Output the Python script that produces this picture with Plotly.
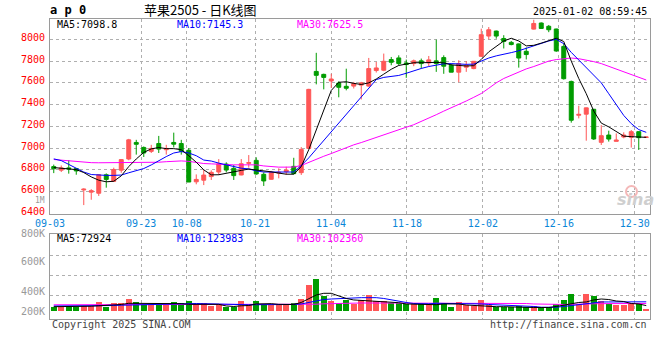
import plotly.graph_objects as go

# ---------------- data ----------------
dates = ["09-03", "09-04", "09-05", "09-06", "09-09", "09-10", "09-11", "09-12", "09-13", "09-18",
         "09-19", "09-20", "09-23", "09-24", "09-25", "09-26", "09-27", "09-30",
         "10-08", "10-09", "10-10", "10-11", "10-14", "10-15", "10-16", "10-17", "10-18", "10-21",
         "10-22", "10-23", "10-24", "10-25", "10-28", "10-29", "10-30", "10-31",
         "11-01", "11-04", "11-05", "11-06", "11-07", "11-08", "11-11", "11-12", "11-13", "11-14",
         "11-15", "11-18", "11-19", "11-20", "11-21", "11-22", "11-25", "11-26", "11-27", "11-28", "11-29",
         "12-02", "12-03", "12-04", "12-05", "12-06", "12-09", "12-10", "12-11", "12-12", "12-13",
         "12-16", "12-17", "12-18", "12-19", "12-20", "12-23", "12-24", "12-25", "12-26", "12-27",
         "12-30", "12-31", "01-02"]

open_ = [6830, 6797, 6818, 6812, 6615, 6595, 6585, 6755, 6694, 6797,
         6900, 7052, 7006, 6970, 7042, 6985, 7052, 7042, 6980, 6690,
         6705, 6738, 6780, 6853, 6814, 6753, 6860, 6887, 6759, 6713,
         6770, 6783, 6832, 6774, 6997, 7705, 7678, 7617, 7598, 7568,
         7570, 7579, 7570, 7713, 7716, 7814, 7829, 7783, 7777, 7802,
         7783, 7802, 7832, 7762, 7698, 7744, 7731, 7844, 8030, 8076,
         8008, 7972, 7958, 7890, 8094, 8150, 8120, 8095, 7935, 7613,
         7302, 7312, 7357, 7053, 7120, 7062, 7102, 7099, 7151, 7098]
high = [6848, 6840, 6890, 6815, 6630, 6622, 6758, 6767, 6820, 6897,
        7085, 7076, 7015, 7030, 7112, 7030, 7142, 7076, 7000, 6758,
        6800, 6795, 6899, 6869, 6844, 6899, 6936, 6915, 6777, 6790,
        6814, 6829, 6911, 7009, 7545, 7876, 7684, 7684, 7614, 7730,
        7609, 7609, 7829, 7792, 7869, 7838, 7853, 7814, 7814, 7823,
        7847, 7997, 7853, 7777, 7808, 7798, 7800, 8098, 8113, 8080,
        8038, 7985, 7962, 7925, 8180, 8155, 8132, 8098, 7965, 7620,
        7390, 7372, 7360, 7211, 7160, 7135, 7145, 7166, 7155, 7102]
low = [6770, 6780, 6765, 6755, 6476, 6525, 6560, 6636, 6690, 6773,
       6888, 6940, 6918, 6955, 6955, 6940, 7006, 6940, 6688, 6667,
       6660, 6707, 6753, 6777, 6707, 6750, 6820, 6755, 6652, 6710,
       6722, 6753, 6759, 6753, 6990, 7586, 7540, 7553, 7467, 7531,
       7548, 7447, 7563, 7695, 7707, 7762, 7762, 7646, 7753, 7731,
       7753, 7701, 7683, 7698, 7606, 7701, 7725, 7838, 8000, 8006,
       7916, 7945, 7740, 7815, 8090, 8097, 8066, 7885, 7630, 7234,
       7273, 7068, 7075, 7029, 7060, 7062, 7090, 7005, 6983, 7098]
close = [6810, 6818, 6808, 6790, 6622, 6608, 6755, 6712, 6803, 6894,
         7076, 7035, 6955, 6997, 6991, 6997, 7036, 6970, 6688, 6712,
         6752, 6777, 6856, 6798, 6747, 6856, 6866, 6762, 6698, 6777,
         6777, 6798, 6765, 6988, 7540, 7669, 7650, 7635, 7559, 7550,
         7594, 7600, 7731, 7737, 7798, 7789, 7777, 7768, 7802, 7777,
         7811, 7777, 7753, 7698, 7777, 7759, 7798, 8043, 8088, 8030,
         7980, 7952, 7828, 7860, 8146, 8100, 8088, 7893, 7638, 7256,
         7310, 7370, 7084, 7114, 7083, 7074, 7120, 7151, 7096, 7102]

ma5 = [6821, 6816, 6812, 6802, 6775, 6735, 6705, 6690, 6695, 6745,
       6830, 6900, 6960, 6993, 7005, 6995, 6995, 6985, 6930, 6870,
       6800, 6754, 6755, 6770, 6783, 6795, 6807, 6800, 6790, 6782,
       6770, 6760, 6760, 6830, 6985, 7170, 7360, 7530, 7605, 7610,
       7595, 7585, 7600, 7635, 7680, 7725, 7760, 7772, 7785, 7785,
       7788, 7788, 7784, 7765, 7760, 7755, 7758, 7815, 7885, 7935,
       7985, 8010, 7985, 7940, 7945, 7965, 7990, 8010, 7980, 7800,
       7640, 7500, 7340, 7230, 7195, 7150, 7110, 7105, 7100, 7099]
ma10 = [6901, 6885, 6850, 6818, 6780, 6757, 6750, 6749, 6749, 6752,
        6773, 6795, 6812, 6845, 6885, 6922, 6955, 6968, 6955, 6930,
        6890, 6881, 6862, 6846, 6826, 6815, 6809, 6790, 6780, 6779,
        6779, 6779, 6780, 6840, 6910, 6990, 7070, 7150, 7230, 7310,
        7390, 7475, 7560, 7630, 7650, 7660, 7668, 7688, 7713, 7732,
        7750, 7765, 7775, 7777, 7773, 7770, 7772, 7800, 7828, 7848,
        7860, 7878, 7895, 7918, 7935, 7960, 7985, 8000, 7960, 7880,
        7810, 7745, 7670, 7600, 7500, 7395, 7300, 7225, 7170, 7145]
ma30 = [6895, 6888, 6882, 6877, 6870, 6866, 6865, 6865, 6865, 6865,
        6865, 6865, 6865, 6865, 6870, 6875, 6880, 6882, 6878, 6866,
        6858, 6855, 6850, 6846, 6846, 6846, 6846, 6846, 6836, 6828,
        6825, 6825, 6826, 6840, 6870, 6900, 6925, 6950, 6978, 7002,
        7030, 7051, 7075, 7103, 7127, 7148, 7169, 7192, 7215, 7244,
        7273, 7307, 7340, 7370, 7399, 7433, 7467, 7502, 7550, 7600,
        7640, 7670, 7700, 7728, 7750, 7776, 7800, 7814, 7822, 7828,
        7822, 7810, 7795, 7777, 7752, 7724, 7697, 7670, 7647, 7626]

# volume in thousand lots
volume = [50, 50, 67.5, 50, 67.5, 67.5, 117, 58, 104, 104,
          162, 117, 90, 90, 90, 90, 117, 104, 135, 90,
          104, 67.5, 90, 58, 58, 135, 90, 135, 90, 81,
          81, 81, 108, 162, 351, 432, 202, 135, 112, 148.5,
          94.5, 148.5, 216, 135, 135, 112, 112, 94.5, 94.5, 94.5,
          81, 180, 112, 58, 117, 81, 71.5, 148.5, 81, 58,
          58, 50, 67.5, 50, 67.5, 50, 50, 90, 148.5, 229.5,
          90, 229.5, 202.5, 135, 94.5, 81, 81, 94.5, 112, 27]
vol_ma5 = [58, 58, 58, 58, 61, 65, 70, 74, 78, 88,
           104, 104, 104, 104, 104, 101, 101, 99, 90, 90,
           90, 90, 90, 68, 61, 70, 74, 95, 99, 99,
           90, 88, 88, 115, 162, 216, 239, 239, 203, 169,
           149, 142, 139, 135, 128, 112, 112, 95, 90, 88,
           81, 85, 95, 95, 95, 81, 74, 68, 61, 58,
           58, 54, 47, 47, 47, 47, 47, 61, 81, 95,
           115, 122, 149, 162, 155, 135, 128, 101, 95, 73]
vol_ma10 = [67.5, 67.5, 67.5, 67.5, 67.5, 67.5, 67.5, 70, 74, 78,
            81, 84, 88, 92, 95, 97, 97, 97, 101, 101,
            99, 95, 92, 88, 85, 84, 84, 85, 85, 84,
            84, 84, 88, 95, 115, 142, 155, 162, 169, 176,
            180, 180, 180, 180, 169, 149, 128, 115, 101, 95,
            97, 104, 104, 104, 104, 99, 95, 95, 88, 85,
            81, 74, 72, 68, 61, 51, 50, 51, 61, 74,
            88, 101, 115, 122, 122, 122, 122, 124, 124, 124]
vol_ma30 = [84, 84, 84, 84, 84, 84, 84, 84, 84, 84,
            84, 84, 84, 84, 84, 84, 84, 84, 84, 84,
            84, 84, 84, 84, 84, 84, 84, 84, 84, 84,
            84, 84, 84, 84, 88, 92, 97, 101, 105, 108,
            108, 108, 108, 108, 108, 108, 108, 108, 108, 108,
            108, 108, 108, 108, 108, 108, 108, 108, 108, 108,
            108, 108, 108, 101, 95, 92, 88, 88, 88, 90,
            95, 95, 97, 99, 99, 100, 101, 101, 102, 102]

price_ticks = [6400, 6600, 6800, 7000, 7200, 7400, 7600, 7800, 8000, 8200]
date_labels = ["09-03", "09-23", "10-08", "10-21", "11-04", "11-18", "12-02", "12-16", "12-30"]
vol_labels = ["800K", "600K", "400K", "200K"]
vol_label_pix = [233, 261, 291, 311]     # window-pixel rows where sina prints them
vol_grid = [216, 486, 756]

# ---------------- styling ----------------
RED = "#FF5656"
GREEN = "#009C00"
GRID = "#AFAFAF"
BOX = "#9A9A9A"
MONO = "DejaVu Sans Mono"
DATE_BLUE = "#0A86D8"

W, HT = 660, 360
PL, PR, PT, PB = 50, 650, 19, 319   # plot area in window pixels

n = len(dates)
x = list(range(n))
# sina spaces its date grid on n-1 intervals
tick_pos = [dates.index(d) * n / (n - 1) - 0.5 for d in date_labels]

fig = go.Figure()
fig.add_trace(go.Candlestick(
    x=x, open=open_, high=high, low=low, close=close,
    increasing=dict(line=dict(color=RED, width=1), fillcolor=RED),
    decreasing=dict(line=dict(color=GREEN, width=1), fillcolor=GREEN),
    whiskerwidth=0, hoverinfo="skip", showlegend=False, xaxis="x", yaxis="y"))
for arr, col in [(ma30, "#FF00FF"), (ma10, "#0000FF"), (ma5, "#000000")]:
    fig.add_trace(go.Scatter(x=x, y=arr, mode="lines", line=dict(color=col, width=1),
                             hoverinfo="skip", showlegend=False, xaxis="x", yaxis="y"))

bar_colors = [RED if c >= o else GREEN for o, c in zip(open_, close)]
fig.add_trace(go.Bar(x=x, y=volume, width=0.78, marker=dict(color=bar_colors, line=dict(width=0)),
                     hoverinfo="skip", showlegend=False, xaxis="x2", yaxis="y2"))
for arr, col in [(vol_ma30, "#FF00FF"), (vol_ma10, "#0000FF"), (vol_ma5, "#000000")]:
    fig.add_trace(go.Scatter(x=x, y=arr, mode="lines", line=dict(color=col, width=1),
                             hoverinfo="skip", showlegend=False, xaxis="x2", yaxis="y2"))

H = PB - PT


def py(pix):
    return (PB - pix) / H


def px(pix):
    return (pix - PL) / (PR - PL)


axis_common = dict(showline=True, linecolor=BOX, linewidth=1, mirror=True, zeroline=False,
                   showgrid=True, gridcolor=GRID, griddash="dot", gridwidth=1, ticks="")

fig.update_layout(
    width=W, height=HT,
    margin=dict(l=PL, r=W - PR, t=PT, b=HT - PB, pad=0, autoexpand=False),
    paper_bgcolor="white", plot_bgcolor="white", showlegend=False, boxgap=0.25, bargap=0,
    font=dict(family=MONO, size=10, color="#000"),
    xaxis=dict(domain=[0, 1], range=[-0.5, n - 0.5], anchor="y", tickvals=tick_pos, ticktext=date_labels,
               tickfont=dict(family=MONO, size=10, color=DATE_BLUE), rangeslider=dict(visible=False),
               **axis_common),
    yaxis=dict(domain=[py(214), 1], range=[6394, 8187], anchor="x", tickvals=price_ticks,
               showticklabels=False, **axis_common),
    xaxis2=dict(domain=[0, 1], range=[-0.5, n - 0.5], anchor="y2", matches="x", tickvals=tick_pos,
                showticklabels=False, **axis_common),
    yaxis2=dict(domain=[0, py(234)], range=[-108, 1039.5], anchor="x2", tickvals=vol_grid,
                showticklabels=False, **axis_common),
)

ann = []
# price labels (sina draws them slightly above their grid lines)
for v in price_ticks:
    ann.append(dict(text=str(v), xref="paper", yref="y", x=0, y=v, xanchor="right", yanchor="middle",
                    xshift=-3, yshift=2, showarrow=False, font=dict(family=MONO, size=10, color="#FF0000")))
ann.append(dict(text="1M", xref="paper", yref="paper", x=0, y=py(200.5), xanchor="right", yanchor="middle",
                xshift=-3, showarrow=False, font=dict(family=MONO, size=8, color="#999999")))
for lab, pix in zip(vol_labels, vol_label_pix):
    ann.append(dict(text=lab, xref="paper", yref="paper", x=0, y=py(pix), xanchor="right", yanchor="middle",
                    xshift=-3, showarrow=False, font=dict(family=MONO, size=10, color="#999999")))
# header
ann.append(dict(text="<b>a p 0</b>", xref="paper", yref="paper", x=px(48), y=py(10), xanchor="left",
                yanchor="middle", showarrow=False, font=dict(family=MONO, size=12, color="#000")))
ann.append(dict(text="苹果2505 - 日K线图", xref="paper", yref="paper", x=px(200), y=py(10), xanchor="center",
                yanchor="middle", showarrow=False, font=dict(family="Noto Sans CJK SC", size=13, color="#000")))
ann.append(dict(text="2025-01-02 08:59:45", xref="paper", yref="paper", x=px(649), y=py(11.5), xanchor="right",
                yanchor="middle", showarrow=False, font=dict(family=MONO, size=10, color="#000")))
# MA legends
for txt, col, xp in [("MA5:7098.8", "#000000", 55), ("MA10:7145.3", "#0000FF", 175), ("MA30:7625.5", "#FF00FF", 295)]:
    ann.append(dict(text=txt, xref="paper", yref="paper", x=px(xp), y=py(24.5), xanchor="left", yanchor="middle",
                    showarrow=False, font=dict(family=MONO, size=10, color=col)))
for txt, col, xp in [("MA5:72924", "#000000", 55), ("MA10:123983", "#0000FF", 175), ("MA30:102360", "#FF00FF", 295)]:
    ann.append(dict(text=txt, xref="paper", yref="paper", x=px(xp), y=py(238.5), xanchor="left", yanchor="middle",
                    showarrow=False, font=dict(family=MONO, size=10, color=col)))
# footer
ann.append(dict(text="Copyright 2025 SINA.COM", xref="paper", yref="paper", x=px(50), y=py(324.5), xanchor="left",
                yanchor="middle", showarrow=False, font=dict(family=MONO, size=10, color="#444444")))
ann.append(dict(text="http://finance.sina.com.cn", xref="paper", yref="paper", x=px(649), y=py(324.5),
                xanchor="right", yanchor="middle", showarrow=False, font=dict(family=MONO, size=10, color="#444444")))
# watermark
ann.append(dict(text="<i><b>sina</b></i>", xref="paper", yref="paper", x=px(635), y=py(199), xanchor="center",
                yanchor="middle", showarrow=False, font=dict(family="DejaVu Sans", size=16, color="#CFCFCF")))
fig.update_layout(annotations=ann)
fig.add_shape(type="circle", xref="paper", yref="paper", x0=px(626), x1=px(637), y0=py(197), y1=py(186),
              line=dict(color="#F4B8B8", width=2), fillcolor="rgba(0,0,0,0)")

# let the figure start at the window's top-left corner (no default body margin), no mode bar
fig.write_html("out.html", config={"displayModeBar": False},
               post_script="document.body.style.margin='0';")
